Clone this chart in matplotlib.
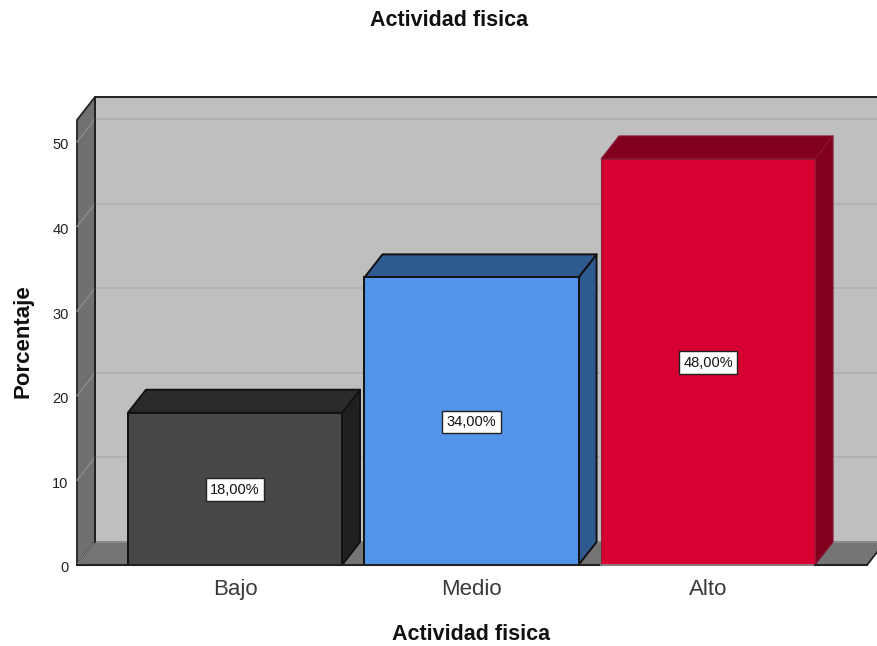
import matplotlib
matplotlib.use("Agg")
import matplotlib.pyplot as plt
from matplotlib.patches import Polygon
from matplotlib.transforms import ScaledTranslation

plt.rcParams['font.family'] = ['Liberation Sans', 'DejaVu Sans']

categorias = ["Bajo", "Medio", "Alto"]
porcentajes = [18, 34, 48]
etiquetas = ["18,00%", "34,00%", "48,00%"]
ticks_y = [0, 10, 20, 30, 40, 50]

# colores de cada barra: frente, lateral, tapa
frente = ["#464749", "#5294e8", "#d60032"]
lateral = ["#1f2020", "#2f5a8f", "#80001e"]
tapa = ["#2b2b2b", "#2f5a8f", "#80001e"]
borde = ["#111111", "#111111", "#8a1a38"]
grosor = [1.4, 1.4, 0.7]

ancho = 0.905
# profundidad del efecto 3D, en unidades de cada eje
dx = 0.0761
dy = 2.72
x_min, x_max = -0.668, 2.672
y_max = 52.6

fig = plt.figure(figsize=(8.77, 6.46), dpi=100)
ax = fig.add_axes([77 / 877, 81 / 646, 790 / 877, 445 / 646])
ax.set_xlim(x_min, x_max)
ax.set_ylim(0, y_max)
for s in ax.spines.values():
    s.set_visible(False)
ax.patch.set_visible(False)


def cara(puntos, color, ec, z, lw=1.3):
    ax.add_patch(Polygon(puntos, closed=True, fc=color, ec=ec, lw=lw, zorder=z,
                         clip_on=False, joinstyle='round'))


# pared del fondo, pared izquierda y piso
cara([(x_min + dx, dy), (x_max + dx, dy), (x_max + dx, y_max + dy), (x_min + dx, y_max + dy)],
     "#bfbfbf", "#111111", 1)
cara([(x_min, 0), (x_min + dx, dy), (x_min + dx, y_max + dy), (x_min, y_max)],
     "#707070", "#222222", 2)
cara([(x_min, 0), (x_max, 0), (x_max + dx, dy), (x_min + dx, dy)],
     "#757575", "#222222", 2)
ax.plot([x_min + dx, x_max + dx], [dy, dy], color="#a0a0a0", lw=1.2, zorder=3, clip_on=False)
ax.plot([x_min + dx, x_min + dx], [dy, y_max + dy], color="#222222", lw=1.3, zorder=3, clip_on=False)

# lineas de la cuadricula sobre el fondo y la pared izquierda
for v in ticks_y[1:]:
    ax.plot([x_min + dx, x_max + dx], [v + dy, v + dy], color="#b0b0b0", lw=1.2, zorder=2.5,
            clip_on=False)
    ax.plot([x_min, x_min + dx], [v, v + dy], color="#8c8c8c", lw=1, zorder=2.5, clip_on=False)
ax.plot([x_min, x_min + dx], [0, dy], color="#8c8c8c", lw=1, zorder=2.5, clip_on=False)

posiciones = list(range(len(categorias)))
for i, valor in enumerate(porcentajes):
    izq = i - ancho / 2
    der = i + ancho / 2
    z = 4 + i
    cara([(der, 0), (der + dx, dy), (der + dx, valor + dy), (der, valor)], lateral[i], borde[i], z, grosor[i])
    cara([(izq, valor), (der, valor), (der + dx, valor + dy), (izq + dx, valor + dy)], tapa[i], borde[i], z, grosor[i])
    ax.bar(i, valor, width=ancho, color=frente[i], edgecolor=borde[i], linewidth=grosor[i], zorder=z + 0.5,
           clip_on=False)
    ax.text(i, valor / 2 - 0.1, etiquetas[i], ha='center', va='center', fontsize=10.5, color="#111111", zorder=10,
            bbox=dict(boxstyle='square,pad=0.3', fc='white', ec='#222222', lw=1))

# base del piso, sin pasar por delante de la barra roja
ax.plot([x_min, 2 - ancho / 2], [0, 0], color="#222222", lw=1.5, zorder=9, clip_on=False)
ax.plot([2 - ancho / 2, 2 + ancho / 2], [0, 0], color="#8a8a8a", lw=1.2, zorder=9, clip_on=False)
ax.plot([2 + ancho / 2, x_max], [0, 0], color="#222222", lw=1.5, zorder=9, clip_on=False)

ax.set_xticks(posiciones)
ax.set_xticklabels(categorias, fontsize=16, color="#3a3a3a")
ax.set_yticks(ticks_y)
ax.set_yticklabels([str(t) for t in ticks_y], fontsize=10.5, color="#222222")
ax.tick_params(axis='x', length=0, pad=10)
ax.tick_params(axis='y', length=0, pad=6)
# bajar un poco los numeros del eje y
baja = ScaledTranslation(0, -2 / 100, fig.dpi_scale_trans)
for lab in ax.get_yticklabels():
    lab.set_transform(lab.get_transform() + baja)

fig.text(449.5 / 877, 1 - 21 / 646, "Actividad fisica", ha='center', va='center', fontsize=15.5,
         fontweight='bold', color="#111111")
fig.text(471.5 / 877, 1 - 635 / 646, "Actividad fisica", ha='center', va='center', fontsize=15.5,
         fontweight='bold', color="#111111")
fig.text(23 / 877, 1 - 341 / 646, "Porcentaje", ha='center', va='center', rotation=90, fontsize=16,
         fontweight='bold', color="#111111")

fig.savefig("out.png", dpi=100)
